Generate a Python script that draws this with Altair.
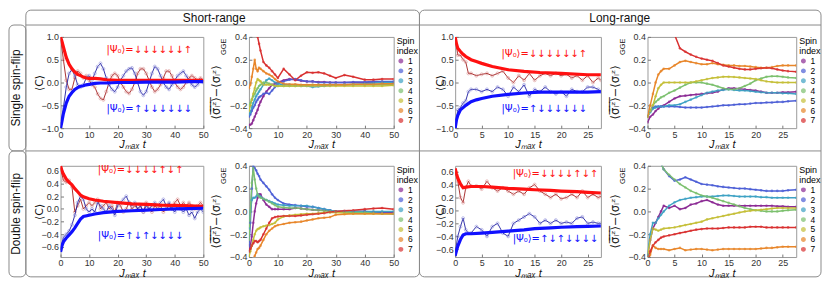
import altair as alt
import pandas as pd

FONT = "Liberation Sans"
FRAME = "#8a8a8a"
PANEL = "#9a9a9a"
SPINS = ["1", "2", "3", "4", "5", "6", "7"]
SPIN_COLORS = ["#8b2b94", "#4d5fd6", "#3ea2c4", "#7cc06e", "#c5bf38", "#e8862a", "#d93030"]
RED, BLUE = "#ff1010", "#1010ff"
RED_N, BLUE_N = "#a01c1c", "#1c1ca0"
RED_M, BLUE_M = "#d98a8a", "#8a8ad9"

# ---------------- time grids ----------------
T_SHORT_NOISY = list(range(0, 51))
T_LONG_NOISY = [0, 0.5, 1, 1.5, 2, 2.5, 3, 4, 5, 6, 7, 8, 9, 10, 11, 12, 13, 14, 15, 16,
                17, 18, 19, 20, 21, 22, 23, 24, 25, 26, 27, 27.5]
T_SHORT_SIG = [0, 0.5, 1, 1.5, 2, 2.5, 3, 3.5, 4, 5, 6, 7, 8, 9, 10, 12, 14, 16, 18, 20, 22,
               24, 26, 28, 30, 33, 36, 40, 43, 46, 50]
T_LONG_SIG = [0, 0.5, 1, 1.5, 2, 2.5, 3, 4, 5, 6, 7, 8, 9, 10, 11, 12, 13, 14, 15, 16, 17,
              18, 19, 20, 21, 22, 23, 24, 25, 26, 27.5]

# ---------------- Panel 1: short-range, single flip, <C> ----------------
P1_SM_T = [0, 0.5, 1, 2, 3, 4, 5, 6, 7, 8, 9, 10, 12, 14, 16, 20, 25, 30, 35, 40, 45, 50]
P1_RED_SM = [1.0, 0.9, 0.78, 0.55, 0.4, 0.3, 0.23, 0.18, 0.15, 0.12, 0.1, 0.09, 0.09, 0.08,
             0.06, 0.05, 0.05, 0.05, 0.05, 0.05, 0.05, 0.05]
P1_BLUE_SM = [-1.0, -0.85, -0.68, -0.45, -0.3, -0.22, -0.15, -0.11, -0.08, -0.07, -0.05, -0.04,
              -0.02, -0.01, -0.01, 0.0, 0.0, 0.01, 0.01, 0.01, 0.02, 0.02]
P1_RED_NZ = [1.0, 0.5, 0.05, -0.15, -0.15, 0.1, 0.25, 0.2, 0.1, 0.15, 0.05, -0.05, -0.1, -0.25,
             -0.35, -0.38, -0.2, 0.0, 0.15, 0.2, 0.15, 0.0, -0.1, -0.2, -0.24, -0.15, 0.0, 0.2,
             0.3, 0.3, 0.2, 0.05, -0.1, -0.2, -0.15, -0.05, 0.1, 0.25, 0.25, 0.15, 0.0, -0.1,
             -0.15, -0.1, 0.0, 0.1, 0.15, 0.1, 0.05, 0.1, 0.05]
P1_BLUE_NZ = [-1.0, -0.55, -0.1, 0.2, 0.28, 0.15, -0.05, -0.1, -0.05, 0.1, 0.15, 0.05, 0.2,
              0.35, 0.42, 0.3, 0.1, -0.05, -0.15, -0.2, -0.1, 0.05, 0.15, 0.25, 0.3, 0.32, 0.2,
              0.0, -0.2, -0.28, -0.2, 0.0, 0.2, 0.35, 0.3, 0.15, 0.0, -0.1, -0.15, -0.05, 0.05,
              0.15, 0.2, 0.25, 0.15, 0.05, -0.05, -0.1, -0.05, 0.05, 0.0]

# ---------------- Panel 2: short-range, single flip, sigma ----------------
P2_S1 = [-0.37, -0.37, -0.36, -0.33, -0.3, -0.27, -0.24, -0.2, -0.17, -0.12, -0.08, -0.05, -0.02,
         -0.01, 0.0, 0.02, 0.03, 0.025, 0.015, 0.01, 0.01, 0.005, 0.005, 0.0, 0.0, 0.0, 0.0, 0.0,
         0.0, 0.0, 0.0]
P2_S2 = [-0.3, -0.28, -0.25, -0.22, -0.2, -0.17, -0.15, -0.13, -0.12, -0.1, -0.09, -0.1, -0.07,
         -0.04, -0.01, 0.01, 0.025, 0.03, 0.02, 0.01, 0.01, 0.0, 0.0, 0.0, 0.0, 0.0, 0.005, 0.005,
         0.01, 0.01, 0.01]
P2_S3 = [-0.28, -0.26, -0.22, -0.18, -0.15, -0.12, -0.1, -0.08, -0.06, -0.02, 0.02, 0.035, 0.02,
         0.0, -0.01, -0.02, -0.02, -0.025, -0.03, -0.03, -0.04, -0.035, -0.03, -0.025, -0.02,
         -0.02, -0.015, -0.01, -0.005, 0.0, 0.0]
P2_S4 = [-0.2, -0.18, -0.15, -0.12, -0.1, -0.07, -0.05, -0.03, -0.02, 0.0, 0.0, -0.01, -0.02,
         -0.03, -0.03, -0.03, -0.03, -0.03, -0.025, -0.025, -0.02, -0.02, -0.02, -0.02, -0.02,
         -0.02, -0.02, -0.02, -0.02, -0.02, -0.02]
P2_S5 = [-0.25, -0.2, -0.15, -0.1, -0.05, 0.0, 0.03, 0.02, 0.01, -0.02, -0.02, -0.02, -0.02,
         -0.03, -0.03, -0.03, -0.03, -0.03, -0.03, -0.03, -0.03, -0.03, -0.03, -0.03, -0.03,
         -0.03, -0.03, -0.03, -0.03, -0.03, -0.025]
P2_S6 = [-0.05, -0.02, 0.05, 0.12, 0.2, 0.12, 0.1, 0.13, 0.12, 0.1, 0.08, 0.07, 0.055, 0.03,
         0.01, -0.01, -0.015, -0.015, -0.02, -0.02, -0.02, -0.02, -0.02, -0.02, -0.02, -0.02,
         -0.015, -0.015, -0.015, -0.01, -0.01]
P2_S7 = [0.95, 0.9, 0.8, 0.7, 0.6, 0.5, 0.4, 0.34, 0.28, 0.18, 0.15, 0.13, 0.1, 0.07, 0.04, 0.12,
         0.07, 0.02, 0.06, 0.09, 0.085, 0.09, 0.08, 0.06, 0.04, 0.065, 0.05, 0.025, 0.025, 0.03,
         0.03]

# ---------------- Panel 3: long-range, single flip, <C> ----------------
P3_SM_T = [0, 0.25, 0.5, 1, 1.5, 2, 3, 4, 5, 7, 10, 13, 16, 20, 25, 27.5]
P3_RED_SM = [1.0, 0.85, 0.75, 0.68, 0.62, 0.57, 0.5, 0.46, 0.42, 0.35, 0.28, 0.245, 0.22, 0.2,
             0.17, 0.17]
P3_BLUE_SM = [-1.0, -0.82, -0.72, -0.6, -0.55, -0.5, -0.42, -0.38, -0.35, -0.3, -0.26, -0.23,
              -0.21, -0.21, -0.21, -0.2]
P3_RED_NZ = [1.0, 0.6, 0.6, 0.5, 0.45, 0.2, 0.2, 0.15, 0.18, 0.2, 0.15, 0.2, 0.25, 0.1, 0.0,
             0.15, 0.05, 0.2, 0.05, 0.15, 0.2, 0.15, 0.2, 0.15, 0.18, 0.1, 0.15, 0.05, 0.15, 0.0,
             0.1, 0.05]
P3_BLUE_NZ = [-1.0, -0.6, -0.55, -0.45, -0.4, -0.2, -0.15, -0.15, -0.2, -0.15, -0.2, -0.1,
              -0.15, -0.3, -0.1, -0.2, -0.05, -0.3, -0.15, -0.2, -0.1, -0.2, -0.25, -0.2, -0.3,
              -0.15, -0.2, -0.2, -0.1, -0.1, -0.15, -0.2]

# ---------------- Panel 4: long-range, single flip, sigma ----------------
P4_S1 = [-0.35, -0.3, -0.28, -0.25, -0.23, -0.21, -0.2, -0.17, -0.14, -0.12, -0.115, -0.11,
         -0.105, -0.1, -0.095, -0.09, -0.08, -0.06, -0.05, -0.05, -0.055, -0.06, -0.065, -0.07,
         -0.08, -0.09, -0.09, -0.09, -0.085, -0.085, -0.08]
P4_S2 = [-0.3, -0.25, -0.22, -0.21, -0.21, -0.21, -0.21, -0.21, -0.21, -0.215, -0.22, -0.22,
         -0.22, -0.22, -0.215, -0.21, -0.205, -0.2, -0.2, -0.195, -0.19, -0.19, -0.185, -0.18,
         -0.18, -0.175, -0.175, -0.17, -0.17, -0.165, -0.16]
P4_S3 = [-0.3, -0.26, -0.23, -0.22, -0.21, -0.21, -0.21, -0.2, -0.2, -0.19, -0.17, -0.15, -0.13,
         -0.11, -0.09, -0.08, -0.07, -0.065, -0.06, -0.065, -0.07, -0.07, -0.075, -0.08, -0.085,
         -0.09, -0.09, -0.09, -0.095, -0.095, -0.1]
P4_S4 = [-0.3, -0.25, -0.2, -0.17, -0.15, -0.13, -0.12, -0.09, -0.07, -0.045, -0.02, 0.0, 0.0,
         0.0, -0.01, -0.02, -0.035, -0.05, -0.06, -0.06, -0.05, -0.03, -0.01, 0.02, 0.035, 0.05,
         0.055, 0.055, 0.05, 0.045, 0.04]
P4_S5 = [-0.3, -0.25, -0.2, -0.12, -0.05, -0.02, 0.0, 0.0, 0.0, 0.0, 0.0, 0.0, 0.01, 0.02, 0.03,
         0.04, 0.045, 0.05, 0.05, 0.048, 0.045, 0.04, 0.035, 0.03, 0.02, 0.01, 0.005, 0.0, 0.0,
         0.0, 0.0]
P4_S6 = [-0.3, -0.2, -0.1, 0.0, 0.07, 0.1, 0.12, 0.12, 0.15, 0.18, 0.19, 0.18, 0.17, 0.16, 0.16,
         0.17, 0.16, 0.155, 0.15, 0.15, 0.145, 0.145, 0.14, 0.135, 0.13, 0.13, 0.135, 0.145,
         0.15, 0.15, 0.15]
P4_S7 = [1.4, 1.3, 1.2, 1.1, 1.0, 0.9, 0.8, 0.62, 0.42, 0.3, 0.27, 0.245, 0.225, 0.21, 0.2,
         0.19, 0.17, 0.15, 0.14, 0.13, 0.12, 0.115, 0.115, 0.12, 0.125, 0.13, 0.125, 0.115,
         0.105, 0.1, 0.095]

# ---------------- Panel 5: short-range, double flip, <C> ----------------
P5_SM_T = [0, 0.5, 1, 2, 3, 4, 5, 6, 7, 8, 10, 12, 15, 20, 25, 30, 35, 40, 45, 50]
P5_RED_SM = [0.68, 0.6, 0.55, 0.47, 0.42, 0.38, 0.32, 0.27, 0.22, 0.19, 0.16, 0.14, 0.12, 0.1,
             0.08, 0.07, 0.06, 0.055, 0.05, 0.04]
P5_BLUE_SM = [-0.68, -0.58, -0.52, -0.46, -0.41, -0.36, -0.3, -0.23, -0.16, -0.12, -0.1, -0.08,
              -0.06, -0.04, -0.03, -0.02, -0.01, 0.0, 0.005, 0.01]
P5_RED_NZ = [0.65, 0.45, 0.42, 0.45, 0.35, -0.05, 0.05, 0.15, 0.0, 0.05, 0.1, 0.05, 0.1, 0.15,
             0.0, 0.05, 0.1, 0.0, 0.05, -0.05, 0.1, 0.05, -0.05, 0.0, 0.1, 0.0, 0.05, 0.0, 0.05,
             -0.05, 0.1, 0.0, -0.05, 0.05, 0.0, 0.05, -0.05, 0.0, 0.05, 0.0, 0.1, 0.15, 0.05,
             0.1, 0.05, 0.1, 0.05, 0.0, 0.05, 0.1, 0.05]
P5_BLUE_NZ = [-0.65, -0.45, -0.4, -0.35, -0.25, -0.1, 0.1, 0.2, 0.15, 0.0, -0.05, 0.0, -0.05,
              0.1, 0.05, 0.0, -0.05, 0.05, 0.0, -0.1, 0.05, 0.1, 0.15, 0.2, 0.1, 0.05, 0.1, 0.0,
              0.05, -0.05, 0.05, 0.0, 0.05, 0.1, 0.05, 0.1, 0.15, 0.05, 0.1, 0.0, -0.05, 0.05,
              0.0, -0.05, 0.0, -0.1, -0.05, -0.15, -0.05, 0.0, -0.05]

# ---------------- Panel 6: short-range, double flip, sigma ----------------
P6_S1 = [-0.35, -0.3, -0.22, -0.1, 0.0, 0.07, 0.12, 0.15, 0.15, 0.1, 0.06, 0.04, 0.02, 0.02,
         0.02, 0.02, 0.02, 0.03, 0.025, 0.02, 0.015, 0.01, 0.01, 0.005, 0.0, 0.0, 0.0, 0.0,
         -0.005, -0.01, -0.01]
P6_S2 = [-0.3, -0.1, 0.2, 0.4, 0.38, 0.36, 0.33, 0.31, 0.28, 0.25, 0.22, 0.19, 0.15, 0.12, 0.1,
         0.07, 0.06, 0.055, 0.05, 0.04, 0.04, 0.03, 0.02, 0.01, 0.0, 0.0, 0.0, 0.0, -0.01,
         -0.015, -0.02]
P6_S3 = [-0.15, 0.0, 0.1, 0.12, 0.12, 0.13, 0.15, 0.14, 0.13, 0.11, 0.1, 0.09, 0.08, 0.07, 0.06,
         0.055, 0.05, 0.05, 0.05, 0.05, 0.04, 0.03, 0.02, 0.01, 0.0, 0.0, 0.0, 0.0, 0.0, 0.0, 0.0]
P6_S4 = [-0.25, 0.0, 0.25, 0.38, 0.28, 0.2, 0.15, 0.13, 0.12, 0.11, 0.1, 0.085, 0.07, 0.055,
         0.04, 0.035, 0.03, 0.03, 0.025, 0.02, 0.015, 0.01, 0.005, 0.0, 0.0, -0.005, -0.01,
         -0.01, -0.015, -0.02, -0.02]
P6_S5 = [-0.4, -0.35, -0.3, -0.25, -0.2, -0.17, -0.155, -0.15, -0.14, -0.13, -0.125, -0.12,
         -0.11, -0.1, -0.07, -0.045, -0.035, -0.03, -0.025, -0.02, -0.02, -0.015, -0.01, -0.01,
         -0.01, -0.015, -0.02, -0.02, -0.02, -0.02, -0.02]
P6_S6 = [-0.5, -0.48, -0.45, -0.42, -0.39, -0.36, -0.33, -0.32, -0.3, -0.25, -0.2, -0.17,
         -0.15, -0.13, -0.12, -0.11, -0.1, -0.095, -0.09, -0.08, -0.07, -0.06, -0.055, -0.05,
         -0.03, -0.025, -0.02, -0.02, -0.02, -0.02, -0.02]
P6_S7 = [-0.35, -0.33, -0.3, -0.28, -0.26, -0.26, -0.27, -0.26, -0.25, -0.2, -0.15, -0.1, -0.06,
         -0.05, -0.045, -0.04, -0.04, -0.04, -0.035, -0.03, -0.025, -0.02, -0.015, -0.005, 0.0,
         0.005, 0.01, 0.02, 0.025, 0.03, 0.02]

# ---------------- Panel 7: long-range, double flip, <C> ----------------
P7_SM_T = [0, 0.25, 0.5, 1, 1.5, 2, 3, 5, 7, 10, 13, 15, 18, 20, 23, 25, 27.5]
P7_RED_SM = [0.65, 0.57, 0.5, 0.41, 0.35, 0.36, 0.37, 0.37, 0.36, 0.34, 0.33, 0.32, 0.31, 0.3,
             0.29, 0.28, 0.27]
P7_BLUE_SM = [-0.7, -0.62, -0.55, -0.45, -0.38, -0.36, -0.36, -0.35, -0.34, -0.32, -0.3, -0.28,
              -0.27, -0.26, -0.25, -0.245, -0.24]
P7_RED_NZ = [0.6, 0.45, 0.2, 0.12, 0.35, 0.45, 0.38, 0.38, 0.33, 0.45, 0.35, 0.3, 0.35, 0.3,
             0.25, 0.3, 0.25, 0.35, 0.4, 0.3, 0.25, 0.2, 0.25, 0.18, 0.2, 0.25, 0.2, 0.3, 0.2,
             0.25, 0.2, 0.22]
P7_BLUE_NZ = [-0.65, -0.4, -0.25, -0.12, -0.3, -0.35, -0.35, -0.25, -0.3, -0.4, -0.25, -0.2,
              -0.35, -0.4, -0.2, -0.15, -0.1, -0.05, -0.1, -0.2, -0.15, -0.2, -0.15, -0.2, -0.18,
              -0.2, -0.12, -0.1, -0.2, -0.18, -0.2, -0.2]

# ---------------- Panel 8: long-range, double flip, sigma ----------------
P8_S1 = [-0.4, -0.25, -0.15, -0.1, -0.05, 0.0, 0.05, 0.03, 0.05, 0.02, 0.03, 0.06, 0.07, 0.09,
         0.1, 0.08, 0.06, 0.05, 0.05, 0.05, 0.05, 0.05, 0.05, 0.05, 0.05, 0.05, 0.05, 0.045,
         0.045, 0.04, 0.04]
P8_S2 = [0.9, 0.8, 0.7, 0.6, 0.5, 0.42, 0.37, 0.31, 0.27, 0.28, 0.3, 0.28, 0.26, 0.24, 0.235,
         0.23, 0.22, 0.215, 0.21, 0.205, 0.2, 0.2, 0.195, 0.19, 0.185, 0.18, 0.18, 0.18, 0.18,
         0.185, 0.19]
P8_S3 = [-0.38, -0.2, -0.1, -0.1, -0.06, -0.03, 0.0, 0.05, 0.08, 0.1, 0.11, 0.12, 0.125, 0.13,
         0.13, 0.13, 0.135, 0.14, 0.14, 0.135, 0.13, 0.13, 0.13, 0.13, 0.125, 0.125, 0.12, 0.12,
         0.12, 0.12, 0.12]
P8_S4 = [0.9, 0.8, 0.7, 0.6, 0.5, 0.42, 0.37, 0.32, 0.28, 0.24, 0.21, 0.18, 0.16, 0.14, 0.13,
         0.12, 0.105, 0.09, 0.075, 0.06, 0.045, 0.03, 0.02, 0.01, 0.005, 0.0, 0.0, 0.0, 0.005,
         0.01, 0.015]
P8_S5 = [-0.4, -0.25, -0.15, -0.16, -0.17, -0.16, -0.15, -0.145, -0.14, -0.13, -0.12, -0.11,
         -0.1, -0.09, -0.07, -0.06, -0.05, -0.04, -0.03, -0.02, -0.01, 0.0, 0.005, 0.01, 0.015,
         0.02, 0.025, 0.03, 0.03, 0.03, 0.03]
P8_S6 = [-0.45, -0.38, -0.3, -0.32, -0.33, -0.33, -0.33, -0.34, -0.33, -0.32, -0.34, -0.335,
         -0.33, -0.33, -0.335, -0.34, -0.335, -0.33, -0.33, -0.33, -0.33, -0.33, -0.33, -0.33,
         -0.325, -0.32, -0.32, -0.315, -0.31, -0.31, -0.31]
P8_S7 = [-0.45, -0.35, -0.3, -0.27, -0.25, -0.23, -0.22, -0.21, -0.2, -0.19, -0.18, -0.17,
         -0.16, -0.155, -0.15, -0.15, -0.15, -0.145, -0.14, -0.14, -0.14, -0.14, -0.135, -0.135,
         -0.135, -0.14, -0.14, -0.14, -0.14, -0.14, -0.14]

# ---------------- labels ----------------
STATE_SINGLE_RED = "|Ψ₀⟩=↓↓↓↓↓↓↑"
STATE_SINGLE_BLUE = "|Ψ₀⟩=↑↓↓↓↓↓↓"
STATE_DOUBLE_RED = "|Ψ₀⟩=↓↓↓↓↑↓↑"
STATE_DOUBLE_BLUE = "|Ψ₀⟩=↑↓↑↓↓↓↓"
SHORT_TICKS_X = [0, 10, 20, 30, 40, 50]
LONG_TICKS_X = [0, 5, 10, 15, 20, 25]
C1_TICKS_Y = [-1.0, -0.5, 0.0, 0.5, 1.0]
C2_TICKS_Y = [-0.6, -0.4, -0.2, 0.0, 0.2, 0.4, 0.6]
SIG_TICKS_Y = [-0.4, -0.2, 0.0, 0.2, 0.4]

ONE = pd.DataFrame({"a": [0]})
PH = 92  # panel plot height


def xaxis(ticks):
    return alt.Axis(values=ticks, format="d", title="Jₘₐₓ t", offset=-3, tickSize=3,
                    domain=False, grid=False, labelPadding=2, labelFlush=False,
                    labelOverlap=False, titleY=22.5, titleBaseline="alphabetic")


def yaxis(ticks, title, title_x):
    return alt.Axis(values=ticks, format=".1f", title=title, offset=-3, tickSize=3,
                    domain=False, grid=False, labelPadding=2, labelFlush=False,
                    labelOverlap=False, titleX=title_x, titleBaseline="middle", titleAngle=270)


def enc_xy(xdom, xticks, ydom, yticks, ytitle, ytitle_x):
    x = alt.X("t:Q", scale=alt.Scale(domain=xdom, nice=False, zero=False), axis=xaxis(xticks))
    y = alt.Y("v:Q", scale=alt.Scale(domain=ydom, nice=False, zero=False),
              axis=yaxis(yticks, ytitle, ytitle_x))
    return x, y


def c_panel(w, xdom, xticks, ydom, yticks, sm_t, red_sm, blue_sm, nz_t, red_nz, blue_nz,
            lab_red, lab_blue, lab_t, lab_red_v, lab_blue_v, ytitle_x, extra=()):
    x, y = enc_xy(xdom, xticks, ydom, yticks, "⟨C⟩", ytitle_x)
    layers = []
    for vals, lc, mc in ((red_nz, RED_N, RED_M), (blue_nz, BLUE_N, BLUE_M)):
        df = pd.DataFrame({"t": nz_t, "v": vals})
        layers.append(alt.Chart(df).mark_line(color=lc, strokeWidth=0.9, clip=True)
                      .encode(x=x, y=y))
        layers.append(alt.Chart(df).mark_point(shape="circle", filled=False, color=mc,
                                               size=9, strokeWidth=0.8, clip=True)
                      .encode(x=x, y=y))
    for vals, lc in ((red_sm, RED), (blue_sm, BLUE)):
        df = pd.DataFrame({"t": sm_t, "v": vals})
        layers.append(alt.Chart(df).mark_line(color=lc, strokeWidth=3.2, clip=True)
                      .encode(x=x, y=y))
    lab = pd.DataFrame({"t": [lab_t, lab_t], "v": [lab_red_v, lab_blue_v],
                        "s": [lab_red, lab_blue], "c": [RED, BLUE]})
    layers.append(alt.Chart(lab).mark_text(font="DejaVu Sans", fontSize=10)
                  .encode(x=x, y=y, text="s:N", color=alt.Color("c:N", scale=None)))
    layers.extend(extra)
    return alt.layer(*layers).properties(width=w, height=PH)


def sig_panel(w, xdom, xticks, t, series, extra=()):
    x, y = enc_xy(xdom, xticks, [-0.4, 0.4], SIG_TICKS_Y, "", 0)
    rows = []
    for s, vals in zip(SPINS, series):
        for tt, vv in zip(t, vals):
            rows.append({"t": tt, "v": vv, "spin": s})
    df = pd.DataFrame(rows)
    color = alt.Color("spin:N", scale=alt.Scale(domain=SPINS, range=SPIN_COLORS),
                      legend=alt.Legend(title=["Spin", "index"], orient="right", offset=3,
                                        padding=0, symbolType="circle", symbolSize=12,
                                        labelFontSize=8.5, titleFontSize=9,
                                        titleFontWeight="normal", titleFont=FONT,
                                        labelFont=FONT, rowPadding=0, titlePadding=1,
                                        labelOffset=3, titleLineHeight=10))
    line = alt.Chart(df).mark_line(strokeWidth=1.5, clip=True).encode(
        x=x, y=y, color=color, order="t:Q")
    pts = alt.Chart(df).mark_point(filled=True, size=7, clip=True).encode(
        x=x, y=y, color=color)
    title_main = alt.Chart(ONE).mark_text(
        text="⟨σ̅ᵢ̅ᶻ̅⟩̅−⟨σᵢᶻ⟩", font="DejaVu Sans", fontSize=11.5, angle=270,
        align="center", baseline="middle", color="#222").encode(
        x=alt.value(-32), y=alt.value(56))
    title_sub = alt.Chart(ONE).mark_text(
        text="GGE", font=FONT, fontSize=7.5, angle=270, align="center", baseline="middle",
        color="#222").encode(x=alt.value(-25), y=alt.value(10))
    return alt.layer(line, pts, title_main, title_sub, *extra).properties(width=w, height=PH)


def deco_rect(x, x2, y, y2):
    return alt.Chart(ONE).mark_rect(fill="transparent", stroke=FRAME, strokeWidth=1,
                                    cornerRadius=5).encode(
        x=alt.value(x), x2=alt.value(x2), y=alt.value(y), y2=alt.value(y2))


def deco_rule(x, x2, y):
    return alt.Chart(ONE).mark_rule(color=FRAME, strokeWidth=1).encode(
        x=alt.value(x), x2=alt.value(x2), y=alt.value(y))


def deco_text(x, y, txt, size, angle=0):
    return alt.Chart(ONE).mark_text(text=txt, font=FONT, fontSize=size, angle=angle,
                                    align="center", baseline="middle", color="#111").encode(
        x=alt.value(x), y=alt.value(y))


def spacer(w):
    return alt.Chart(ONE).mark_point(opacity=0).encode(
        x=alt.value(0), y=alt.value(0)).properties(
        width=w, height=PH, view=alt.ViewBackground(stroke="transparent"))


# frames (relative to the first panel's plot origin)
TOP, HEAD, MID, BOT = -27, -12, 115, 242
LEFT, INNER, DIV, RIGHT = -52, -35, 362, 767
decor = [
    deco_rect(INNER, DIV, TOP, BOT),
    deco_rect(DIV, RIGHT, TOP, BOT),
    deco_rule(INNER, RIGHT, HEAD),
    deco_rule(INNER, RIGHT, MID),
    deco_rect(LEFT, INNER, HEAD, MID),
    deco_rect(LEFT, INNER, MID, BOT),
    deco_text(155, -19.5, "Short-range", 12),
    deco_text(564, -19.5, "Long-range", 12),
    deco_text(-44.5, 51.5, "Single spin-flip", 12, 270),
    deco_text(-44.5, 178.5, "Double spin-flip", 12, 270),
]

p1 = c_panel(144, [0, 50], SHORT_TICKS_X, [-1, 1], C1_TICKS_Y, P1_SM_T, P1_RED_SM, P1_BLUE_SM,
             T_SHORT_NOISY, P1_RED_NZ, P1_BLUE_NZ, STATE_SINGLE_RED, STATE_SINGLE_BLUE,
             31, 0.72, -0.59, -24, extra=decor)
p2 = sig_panel(146, [0, 50], SHORT_TICKS_X, T_SHORT_SIG,
               [P2_S1, P2_S2, P2_S3, P2_S4, P2_S5, P2_S6, P2_S7])
p3 = c_panel(147, [0, 27.5], LONG_TICKS_X, [-1, 1], C1_TICKS_Y, P3_SM_T, P3_RED_SM, P3_BLUE_SM,
             T_LONG_NOISY, P3_RED_NZ, P3_BLUE_NZ, STATE_SINGLE_RED, STATE_SINGLE_BLUE,
             16.8, 0.63, -0.59, -18)
p4 = sig_panel(150, [0, 27.5], LONG_TICKS_X, T_LONG_SIG,
               [P4_S1, P4_S2, P4_S3, P4_S4, P4_S5, P4_S6, P4_S7])
p5 = c_panel(144, [0, 50], SHORT_TICKS_X, [-0.76, 0.68], C2_TICKS_Y, P5_SM_T, P5_RED_SM,
             P5_BLUE_SM, T_SHORT_NOISY, P5_RED_NZ, P5_BLUE_NZ, STATE_DOUBLE_RED,
             STATE_DOUBLE_BLUE, 28, 0.61, -0.43, -24)
p6 = sig_panel(146, [0, 50], SHORT_TICKS_X, T_SHORT_SIG,
               [P6_S1, P6_S2, P6_S3, P6_S4, P6_S5, P6_S6, P6_S7])
p7 = c_panel(147, [0, 27.5], LONG_TICKS_X, [-0.72, 0.69], C2_TICKS_Y, P7_SM_T, P7_RED_SM,
             P7_BLUE_SM, T_LONG_NOISY, P7_RED_NZ, P7_BLUE_NZ, STATE_DOUBLE_RED,
             STATE_DOUBLE_BLUE, 18.9, 0.57, -0.44, -18)
p8 = sig_panel(150, [0, 27.5], LONG_TICKS_X, T_LONG_SIG,
               [P8_S1, P8_S2, P8_S3, P8_S4, P8_S5, P8_S6, P8_S7])

cells = [p1, spacer(46), p2, spacer(62), p3, spacer(47), p4,
         p5, spacer(46), p6, spacer(62), p7, spacer(47), p8]

chart = alt.concat(*cells, columns=7, spacing={"row": 38, "column": 0}, bounds="flush").resolve_scale(
    color="independent", x="independent", y="independent"
).properties(padding=0).configure_view(
    stroke=PANEL, strokeWidth=1
).configure_axis(
    labelFont=FONT, labelFontSize=9, labelColor="#333", tickColor="#777",
    titleFont=FONT, titleFontSize=11, titleFontWeight="normal", titleColor="#111",
    titleFontStyle="italic"
).configure_axisY(titleFontStyle="normal", titleFont="DejaVu Sans")

chart.save("out.html", embed_options={"renderer": "svg", "actions": False})
